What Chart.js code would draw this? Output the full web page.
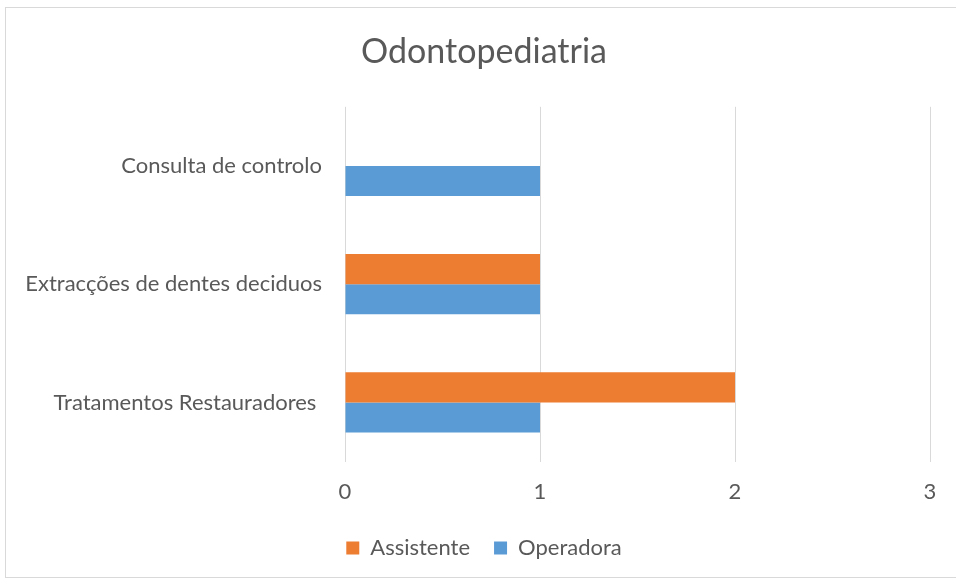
<!DOCTYPE html>
<html>
<head>
<meta charset="utf-8">
<script src="https://cdn.jsdelivr.net/npm/chart.js@4"></script>
<style>
  body { margin: 0; background: #fff; }
  #wrap { position: relative; width: 956px; height: 581px; overflow: hidden; }
  #frame { position: absolute; left: 5px; top: 7px; width: 960px; height: 571px; border: 1px solid #d9d9d9; box-sizing: border-box; }
  canvas { position: absolute; left: 0; top: 0; }
</style>
</head>
<body>
<div id="wrap">
  <div id="frame"></div>
  <canvas id="myChart" width="956" height="581"></canvas>
</div>
<script>
var categories = ['Consulta de controlo', 'Extracções de dentes deciduos', 'Tratamentos Restauradores '];
var assistente = [0, 1, 2];
var operadora = [1, 1, 1];
var xTicks = [0, 1, 2, 3];

var Orange = '#ED7D31', Blue = '#5B9BD5', TextColor = '#595959';
var FontName = 'Lato, "Open Sans", sans-serif';

var ctx = document.getElementById('myChart').getContext('2d');
var chart = new Chart(ctx, {
    type: 'bar',
    data: {
        labels: categories,
        datasets: [{
            label: 'Assistente',
            data: assistente,
            backgroundColor: Orange
        }, {
            label: 'Operadora',
            data: operadora,
            backgroundColor: Blue
        }]
    },
    options: {
        indexAxis: 'y',
        responsive: false,
        animation: false,
        datasets: {
            bar: { categoryPercentage: 0.51, barPercentage: 1.0 }
        },
        layout: { padding: { left: 18, right: 6, top: 10, bottom: 12 } },
        scales: {
            x: {
                min: xTicks[0],
                max: xTicks[xTicks.length - 1],
                afterBuildTicks: function (axis) {
                    axis.ticks = xTicks.map(function (v) { return { value: v }; });
                },
                afterFit: function (axis) { axis.height -= 9; },
                grid: { color: '#d9d9d9', drawTicks: false },
                border: { display: false },
                ticks: { color: TextColor, padding: 17, font: { family: FontName, size: 22 } }
            },
            y: {
                grid: { display: false },
                border: { display: false },
                afterFit: function (axis) { axis.width = 327; },
                ticks: { color: TextColor, padding: 15, font: { family: FontName, size: 22 } }
            },
            // empty box on the right, keeps the plot edge at the "3" gridline
            spacer: {
                type: 'linear',
                position: 'right',
                grid: { display: false },
                border: { display: false },
                ticks: { display: false },
                afterFit: function (axis) { axis.width = 20; }
            }
        },
        plugins: {
            title: {
                display: true,
                text: 'Odontopediatria',
                color: TextColor,
                font: { family: FontName, size: 34, weight: 'normal' },
                padding: { top: 22, bottom: 34 }
            },
            legend: {
                position: 'bottom',
                labels: {
                    color: TextColor,
                    boxWidth: 13,
                    boxHeight: 13,
                    padding: 24,
                    font: { family: FontName, size: 22 }
                }
            },
            tooltip: { enabled: false }
        }
    }
});
</script>
</body>
</html>
